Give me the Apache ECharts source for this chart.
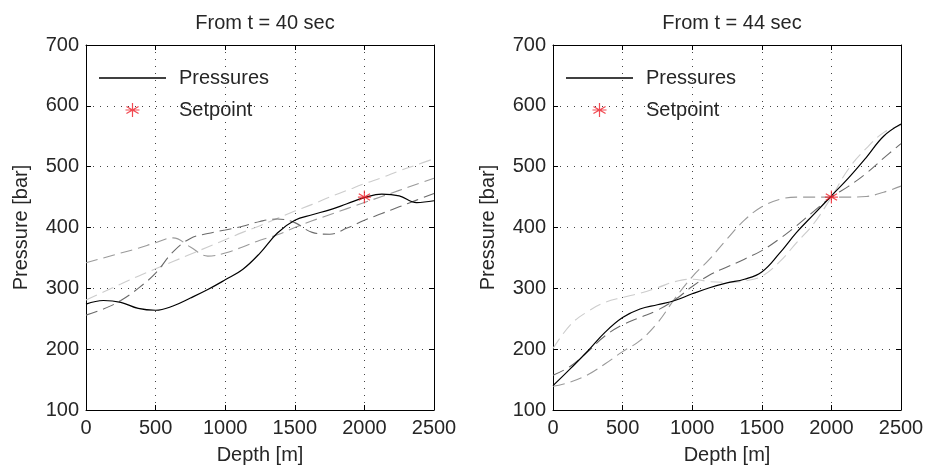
<!DOCTYPE html>
<html>
<head>
<meta charset="utf-8">
<script src="https://cdn.jsdelivr.net/npm/echarts@6/dist/echarts.min.js"></script>
<style>
  html, body { margin: 0; padding: 0; background: #fff; }
  #chart { width: 928px; height: 473px; }
</style>
</head>
<body>
<div id="chart"></div>
<script>
// depth samples [m], shared by all curves
const depth = [0, 125, 250, 375, 500, 625, 750, 875, 1000, 1125, 1250,
  1375, 1500, 1625, 1750, 1875, 2000, 2125, 2250, 2375, 2500]

// From t = 40 sec
const pressures40 = [274, 280, 277, 267, 264, 271, 284, 298, 314, 331, 358,
  391, 412, 421, 429, 439, 449, 455, 452, 441, 444]
const light40 = [281, 294, 307, 320, 332, 344, 356, 368, 380, 392, 403,
  415, 427, 438, 450, 461, 472, 482, 493, 503, 513]
const mid40 = [342, 350, 358, 366, 375, 383, 368, 353, 358, 368, 379,
  388, 400, 411, 421, 431, 441, 451, 461, 471, 481]
const dark40 = [256, 266, 280, 300, 325, 360, 382, 390, 396, 402, 410,
  414, 408, 392, 389, 399, 412, 423, 434, 445, 456]

// From t = 44 sec
const pressures44 = [140, 168, 197, 228, 252, 266, 273, 280, 291, 301, 309,
  315, 327, 357, 392, 422, 452, 482, 515, 550, 570]
const light44 = [201, 240, 262, 277, 285, 292, 301, 311, 315, 311, 310,
  312, 320, 343, 375, 407, 450, 497, 530, 556, 568]
const mid44 = [139, 146, 158, 176, 196, 214, 243, 283, 319, 348, 381,
  412, 434, 446, 450, 450, 450, 450, 451, 458, 468]
const dark44 = [157, 172, 196, 222, 240, 252, 264, 281, 303, 322, 335,
  348, 362, 381, 403, 427, 450, 468, 489, 514, 538]

const setpoint = [2000, 450]
const titles = ['From t = 40 sec', 'From t = 44 sec']

const panels = [
  { left: 86, pressures: pressures40, grays: [light40, mid40, dark40] },
  { left: 553, pressures: pressures44, grays: [light44, mid44, dark44] }
]

const plotW = 348
const plotH = 365
const grayColors = ['#cccccc', '#9a9a9a', '#6a6a6a']
const font = 'Liberation Sans, Arial, Helvetica, sans-serif'
const textColor = '#262626'
const starIcon = 'path://M5,0L5,10M0.67,2.5L9.33,7.5M0.67,7.5L9.33,2.5M0,5L10,5'
const lineIcon = 'path://M0,0L67,0L67,1.3L0,1.3Z'

const pairs = arr => depth.map((d, i) => [d, arr[i]])

const grid = []
const xAxis = []
const yAxis = []
const series = []
const title = []
const legend = []

panels.forEach((p, i) => {
  grid.push({ left: p.left, top: 45, width: plotW, height: plotH, containLabel: false })

  title.push({
    text: titles[i],
    left: p.left + plotW / 2,
    textAlign: 'center',
    top: 8,
    textStyle: { fontFamily: font, fontSize: 20, fontWeight: 'normal', color: textColor }
  })

  // bottom x axis
  xAxis.push({
    type: 'value', gridIndex: i, min: 0, max: 2500, interval: 500,
    name: 'Depth [m]', nameLocation: 'middle', nameGap: 35,
    nameTextStyle: { fontFamily: font, fontSize: 20, color: textColor },
    axisLine: { show: true, onZero: false, lineStyle: { color: '#000', width: 1 } },
    axisTick: { show: true, inside: true, length: 5, lineStyle: { color: '#000' } },
    axisLabel: { fontFamily: font, fontSize: 20, color: textColor, margin: 8,
      showMinLabel: true, showMaxLabel: true, formatter: v => String(v) },
    splitLine: { show: true, lineStyle: { color: '#444', type: [1, 6], width: 1 } }
  })
  // top x axis (box + ticks)
  xAxis.push({
    type: 'value', gridIndex: i, min: 0, max: 2500, interval: 500, position: 'top',
    axisLine: { show: true, onZero: false, lineStyle: { color: '#000', width: 1 } },
    axisTick: { show: true, inside: true, length: 5, lineStyle: { color: '#000' } },
    axisLabel: { show: false },
    splitLine: { show: false }
  })
  // left y axis
  yAxis.push({
    type: 'value', gridIndex: i, min: 100, max: 700, interval: 100,
    name: 'Pressure [bar]', nameLocation: 'middle', nameGap: 55,
    nameTextStyle: { fontFamily: font, fontSize: 20, color: textColor },
    axisLine: { show: true, onZero: false, lineStyle: { color: '#000', width: 1 } },
    axisTick: { show: true, inside: true, length: 5, lineStyle: { color: '#000' } },
    axisLabel: { fontFamily: font, fontSize: 20, color: textColor, margin: 7, showMinLabel: true, showMaxLabel: true },
    splitLine: { show: true, lineStyle: { color: '#444', type: [1, 6], width: 1 } }
  })
  // right y axis
  yAxis.push({
    type: 'value', gridIndex: i, min: 100, max: 700, interval: 100, position: 'right',
    axisLine: { show: true, onZero: false, lineStyle: { color: '#000', width: 1 } },
    axisTick: { show: true, inside: true, length: 5, lineStyle: { color: '#000' } },
    axisLabel: { show: false },
    splitLine: { show: false }
  })

  p.grays.forEach((arr, k) => {
    series.push({
      name: 'gray' + i + k,
      type: 'line',
      xAxisIndex: i * 2,
      yAxisIndex: i * 2,
      data: pairs(arr),
      smooth: 0.4,
      showSymbol: false,
      silent: true,
      lineStyle: { color: grayColors[k], width: 1.1, type: [12, 6] }
    })
  })

  series.push({
    name: 'Pressures',
    type: 'line',
    xAxisIndex: i * 2,
    yAxisIndex: i * 2,
    data: pairs(p.pressures),
    smooth: 0.4,
    showSymbol: false,
    symbol: 'none',
    color: '#000',
    lineStyle: { color: '#000', width: 1.2 }
  })

  series.push({
    name: 'Setpoint',
    type: 'scatter',
    xAxisIndex: i * 2,
    yAxisIndex: i * 2,
    data: [setpoint],
    symbol: starIcon,
    symbolSize: 13,
    itemStyle: { color: 'rgba(0,0,0,0)', borderColor: '#ee1c25', borderWidth: 1.2 },
    z: 5
  })

  legend.push({
    left: p.left + 13,
    top: 68,
    padding: 0,
    orient: 'vertical',
    itemWidth: 67,
    itemHeight: 14,
    itemGap: 12,
    selectedMode: false,
    data: [
      { name: 'Pressures', icon: lineIcon, itemStyle: { color: '#000', borderWidth: 0 } },
      { name: 'Setpoint', icon: starIcon,
        itemStyle: { color: 'rgba(0,0,0,0)', borderColor: '#ee1c25', borderWidth: 1.2 } }
    ],
    textStyle: { fontFamily: font, fontSize: 20, color: textColor, padding: [0, 0, 0, 8] }
  })
})

const myChart = echarts.init(document.getElementById('chart'), null, { renderer: 'canvas' })
myChart.setOption({
  animation: false,
  backgroundColor: '#fff',
  title,
  legend,
  grid,
  xAxis,
  yAxis,
  series
})
</script>
</body>
</html>
